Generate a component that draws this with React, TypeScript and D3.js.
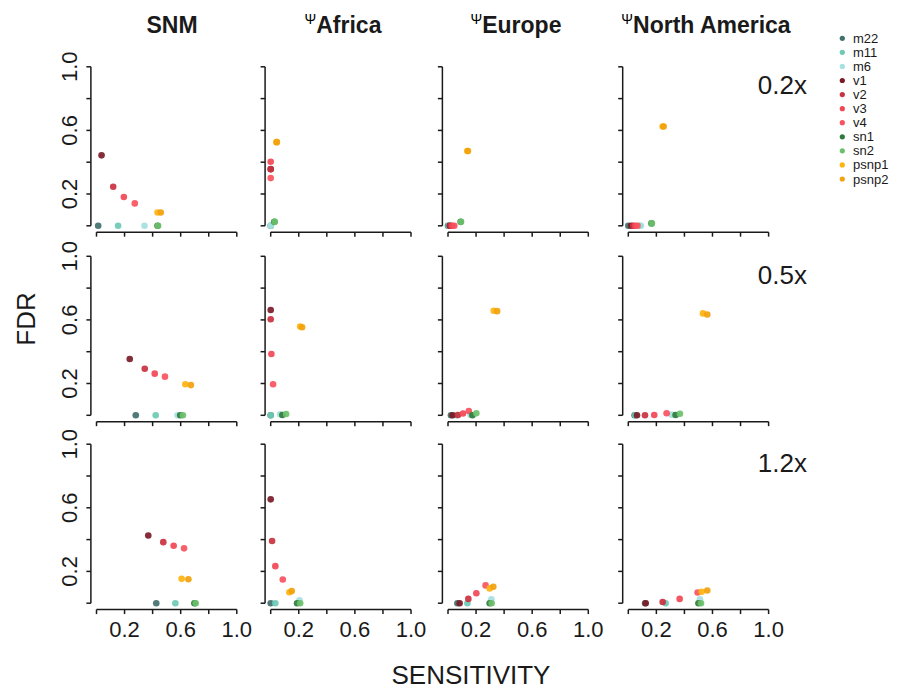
import React from "react";
import * as d3 from "d3";

const methods = ["m22", "m11", "m6", "v1", "v2", "v3", "v4", "sn1", "sn2", "psnp1", "psnp2"];
const colors = ["#41706d", "#6ccab5", "#a6e0e0", "#7b1b27", "#c9323f", "#f24856", "#f7525e", "#2f7a3d", "#6bc06b", "#ffb30f", "#f2a20c"];
const populations = ["SNM", "Africa", "Europe", "North America"];
const psiFlags = [false, true, true, true];
const coverages = ["0.2x", "0.5x", "1.2x"];
const tickValues = [0, 0.2, 0.4, 0.6, 0.8, 1.0];
const labeledTicks = [0.2, 0.6, 1.0];

// order of each inner list follows `methods`
const sens02 = [
  [0.012, 0.154, 0.342, 0.036, 0.119, 0.195, 0.273, 0.435, 0.439, 0.435, 0.458],
  [0, 0, 0, 0, 0, 0, 0, 0.026, 0.029, 0.041, 0.044],
  [0, 0.005, 0.01, 0.012, 0.02, 0.03, 0.045, 0.09, 0.093, 0.138, 0.142],
  [0, 0.082, 0.09, 0.02, 0.035, 0.05, 0.065, 0.165, 0.168, 0.245, 0.252],
];
const fdr02 = [
  [0, 0, 0, 0.443, 0.246, 0.181, 0.141, 0, 0, 0.084, 0.084],
  [0, 0, 0, 0.357, 0.355, 0.403, 0.3, 0.025, 0.025, 0.526, 0.526],
  [0, 0, 0, 0, 0, 0, 0, 0.025, 0.025, 0.47, 0.47],
  [0, 0, 0, 0, 0, 0, 0, 0.015, 0.015, 0.625, 0.625],
];
const sens05 = [
  [0.28, 0.422, 0.578, 0.237, 0.344, 0.415, 0.488, 0.597, 0.616, 0.633, 0.673],
  [0, 0, 0.067, 0, 0, 0.005, 0.017, 0.083, 0.11, 0.21, 0.224],
  [0.021, 0.064, 0.16, 0.033, 0.071, 0.107, 0.148, 0.174, 0.202, 0.326, 0.35],
  [0.045, 0.05, 0.309, 0.062, 0.119, 0.185, 0.273, 0.337, 0.368, 0.532, 0.563],
];
const fdr05 = [
  [0, 0, 0, 0.354, 0.293, 0.262, 0.243, 0, 0, 0.195, 0.19],
  [0, 0, 0.006, 0.662, 0.604, 0.386, 0.195, 0.002, 0.008, 0.558, 0.554],
  [0, 0, 0.004, 0, 0.002, 0.011, 0.027, 0, 0.013, 0.658, 0.655],
  [0, 0, 0.004, 0, 0, 0.002, 0.013, 0.002, 0.01, 0.641, 0.634],
];
const sens12 = [
  [0.426, 0.562, 0.7, 0.369, 0.476, 0.55, 0.624, 0.698, 0.707, 0.607, 0.655],
  [0, 0.033, 0.205, 0, 0.01, 0.033, 0.086, 0.188, 0.21, 0.133, 0.15],
  [0.067, 0.138, 0.309, 0.083, 0.145, 0.202, 0.268, 0.297, 0.311, 0.297, 0.323],
  [0.12, 0.266, 0.511, 0.124, 0.245, 0.366, 0.494, 0.5, 0.518, 0.523, 0.563],
];
const fdr12 = [
  [0, 0, 0, 0.426, 0.384, 0.361, 0.345, 0, 0, 0.153, 0.151],
  [0, 0, 0.019, 0.653, 0.391, 0.233, 0.149, 0, 0, 0.069, 0.076],
  [0, 0, 0.025, 0, 0.027, 0.063, 0.112, 0, 0, 0.093, 0.103],
  [0, 0, 0.025, 0, 0.008, 0.027, 0.067, 0, 0, 0.072, 0.08],
];

const sensRows = [sens02, sens05, sens12];
const fdrRows = [fdr02, fdr05, fdr12];

const W = 913;
const H = 689;
const colX0 = [96.5, 270.7, 448, 628.3];
const rowY1 = [66.8, 256.3, 444.2];
const unitW = 140.3;
const unitH = 159;
const font = "'Liberation Sans', Arial, Helvetica, sans-serif";
const ink = "#1a1a1a";

function Panel({ r, c }: { r: number; c: number }) {
  const x = d3.scaleLinear().domain([0, 1]).range([colX0[c], colX0[c] + unitW]);
  const y = d3.scaleLinear().domain([0, 1]).range([rowY1[r] + unitH, rowY1[r]]);
  const axX = x(-0.04);
  const axY = y(-0.04);
  const tl = 4.5;
  const sens = sensRows[r][c];
  const fdr = fdrRows[r][c];
  return (
    <g>
      <line x1={axX} x2={axX} y1={y(0)} y2={y(1)} stroke={ink} strokeWidth={1.5} />
      {tickValues.map((t) => (
        <line key={"yt" + t} x1={axX} x2={axX - tl} y1={y(t)} y2={y(t)} stroke={ink} strokeWidth={1.5} />
      ))}
      <line x1={x(0)} x2={x(1)} y1={axY} y2={axY} stroke={ink} strokeWidth={1.5} />
      {tickValues.map((t) => (
        <line key={"xt" + t} x1={x(t)} x2={x(t)} y1={axY} y2={axY + tl} stroke={ink} strokeWidth={1.5} />
      ))}
      {c === 0 &&
        labeledTicks.map((t) => (
          <text
            key={"yl" + t}
            transform={`translate(${axX - 14},${y(t)}) rotate(-90)`}
            textAnchor="middle"
            fontSize={22}
            fontFamily={font}
            fill={ink}
          >
            {t.toFixed(1)}
          </text>
        ))}
      {r === 2 &&
        labeledTicks.map((t) => (
          <text key={"xl" + t} x={x(t)} y={axY + 27} textAnchor="middle" fontSize={22} fontFamily={font} fill={ink}>
            {t.toFixed(1)}
          </text>
        ))}
      {methods.map((m, i) => (
        <circle key={m} cx={x(sens[i])} cy={y(fdr[i])} r={3.3} fill={colors[i]} fillOpacity={0.92} />
      ))}
    </g>
  );
}

export default function App() {
  const titleCenters = [172, 343, 516, 706];
  const legendY = d3.scaleLinear().domain([0, methods.length - 1]).range([38.3, 179]);
  return (
    <svg width={W} height={H} style={{ position: "absolute", left: 0, top: 0, background: "#fff" }}>
      <rect width={W} height={H} fill="#fff" />
      {populations.map((p, c) => (
        <text key={p} x={titleCenters[c]} y={33} textAnchor="middle" fontSize={23} fontWeight="bold" fontFamily={font} fill={ink}>
          {psiFlags[c] && (
            <tspan fontSize={14} fontWeight="normal" fill="#000" dy={-9}>
              Ψ
            </tspan>
          )}
          <tspan dy={psiFlags[c] ? 9 : 0}>{p}</tspan>
        </text>
      ))}
      {coverages.map((_, r) =>
        populations.map((__, c) => <Panel key={r + "-" + c} r={r} c={c} />)
      )}
      {coverages.map((cv, r) => (
        <text key={cv} x={807} y={rowY1[r] + 27.5} textAnchor="end" fontSize={26} fontFamily={font} fill={ink}>
          {cv}
        </text>
      ))}
      <text transform="translate(35,319) rotate(-90)" textAnchor="middle" fontSize={26} fontFamily={font} fill={ink}>
        FDR
      </text>
      <text x={471} y={684} textAnchor="middle" fontSize={26} fontFamily={font} fill={ink}>
        SENSITIVITY
      </text>
      {methods.map((m, i) => (
        <g key={"lg" + m}>
          <circle cx={842.3} cy={legendY(i)} r={2.6} fill={colors[i]} />
          <text x={853} y={legendY(i)} dy="0.35em" fontSize={13} fontFamily={font} fill={ink}>
            {m}
          </text>
        </g>
      ))}
    </svg>
  );
}
